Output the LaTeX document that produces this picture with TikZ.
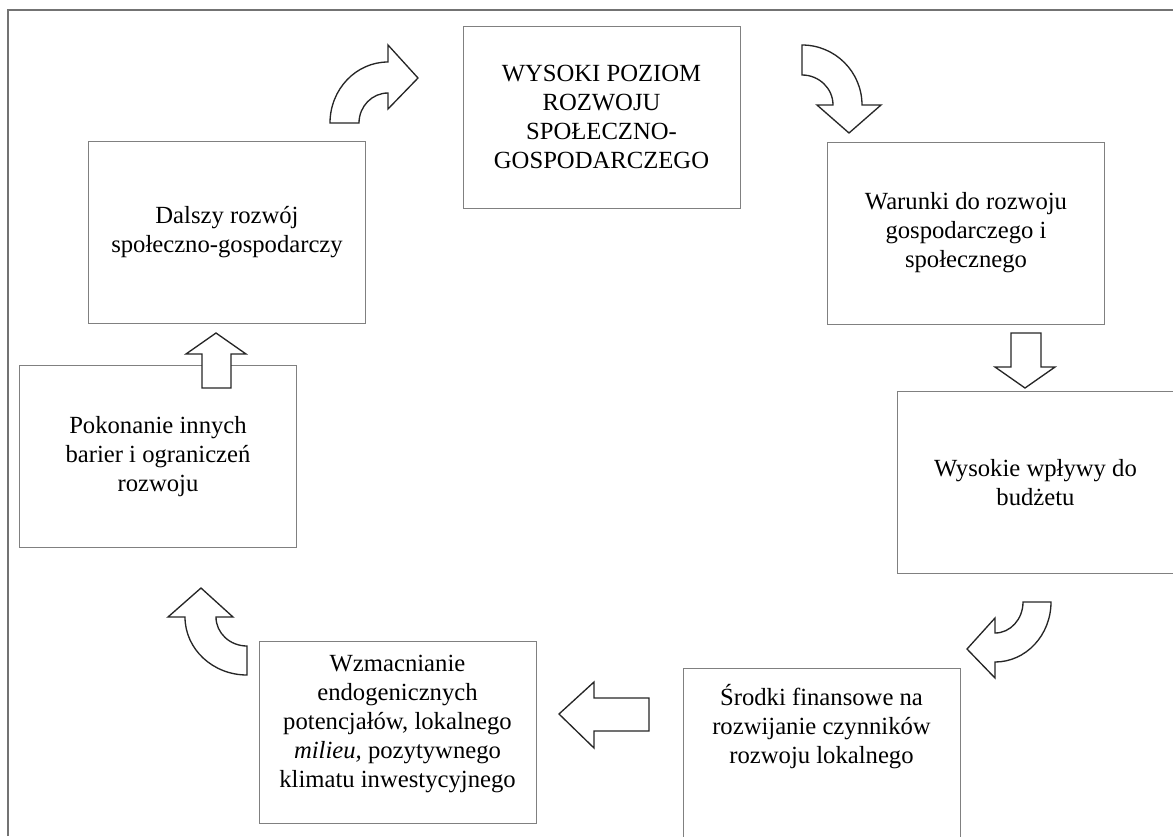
\documentclass[tikz,border=0pt]{standalone}
\usepackage{fontspec}
\setmainfont{Liberation Serif}
\usepackage{tikz}
\tikzstyle{box}=[rectangle,draw=black!50,line width=0.75pt,minimum width=207.75pt,minimum height=136.5pt,align=center,inner sep=0pt]
\tikzstyle{boxtext}=[align=center,inner sep=0pt]
\tikzstyle{blockarrow}=[draw=black!85,line width=1pt,fill=white,line join=miter]
\tikzstyle{frame}=[draw=black!55,line width=1pt]
\begin{document}
\begin{tikzpicture}[x=0.75pt,y=-0.75pt,font=\fontsize{18.5}{21.75}\selectfont]
                    \useasboundingbox (0,0) rectangle (1173,836);
                    \path[frame] (8,836) -- (8,10) -- (1173,10);

                    \node[box] (poziom) at (601.5,117) {WYSOKI POZIOM\\ROZWOJU\\SPOŁECZNO-\\GOSPODARCZEGO};
                    \node[box] (warunki) at (966,233) {Warunki do rozwoju\\gospodarczego i\\społecznego};
                    \node[box] (wplywy) at (1035.5,482.5) {Wysokie wpływy do\\budżetu};
                    \node[box] (srodki) at (821.5,759) {};
                    \node[boxtext] (srodkitekst) at (821.5,727) {Środki finansowe na\\rozwijanie czynników\\rozwoju lokalnego};
                    \node[box] (wzmacnianie) at (397.5,732) {};
                    \node[boxtext] (wzmacnianietekst) at (397.5,724) {Wzmacnianie\\endogenicznych\\potencjałów, lokalnego\\\textit{milieu,} pozytywnego\\klimatu inwestycyjnego};
                    \node[box] (pokonanie) at (158,456.5) {Pokonanie innych\\barier i ograniczeń\\rozwoju};
                    \node[box] (dalszy) at (227,232.5) {Dalszy rozwój\\społeczno-gospodarczy};

                    \path[blockarrow] (330,123) arc[start angle=180,end angle=270,x radius=58,y radius=61]
                        -- (388,45) -- (418,78) -- (388,109) -- (388,93)
                        arc[start angle=270,end angle=180,x radius=29,y radius=30] -- cycle;
                    \path[blockarrow] (802,45) arc[start angle=270,end angle=360,x radius=60,y radius=60]
                        -- (881,105) -- (849,133) -- (817,105) -- (833,105)
                        arc[start angle=0,end angle=-90,x radius=31,y radius=30] -- cycle;
                    \path[blockarrow] (1011,333) -- (1041,333) -- (1041,367) -- (1055,367)
                        -- (1025,388) -- (995,367) -- (1011,367) -- cycle;
                    \path[blockarrow] (1051,602) arc[start angle=0,end angle=90,x radius=56,y radius=60]
                        -- (995,678) -- (967,649) -- (995,618) -- (995,633)
                        arc[start angle=90,end angle=0,x radius=28,y radius=31] -- cycle;
                    \path[blockarrow] (649,698) -- (649,731) -- (594,731) -- (594,748)
                        -- (559,714) -- (594,682) -- (594,698) -- cycle;
                    \path[blockarrow] (247,675) arc[start angle=90,end angle=180,x radius=62,y radius=58]
                        -- (168,617) -- (201,588) -- (233,617) -- (216,617)
                        arc[start angle=180,end angle=90,x radius=31,y radius=29] -- cycle;
                    \path[blockarrow] (202,388) -- (231,388) -- (231,354) -- (246,354)
                        -- (216,333) -- (186,354) -- (202,354) -- cycle;
                \end{tikzpicture}
\end{document}
